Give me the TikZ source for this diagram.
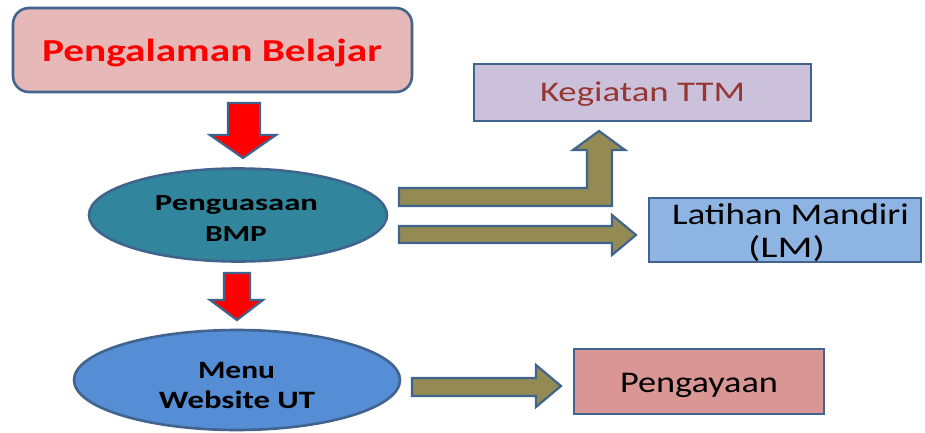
\documentclass[tikz,border=0pt]{standalone}
\usepackage{fontspec}
\setmainfont{Carlito}
\usetikzlibrary{shapes.geometric}
\definecolor{bord}{HTML}{41648F}
\definecolor{pinkbox}{HTML}{E6B9B8}
\definecolor{tealell}{HTML}{31859C}
\definecolor{blueell}{HTML}{558ED5}
\definecolor{lilac}{HTML}{CCC1DA}
\definecolor{darkred}{HTML}{953735}
\definecolor{lmblue}{HTML}{8EB4E3}
\definecolor{rose}{HTML}{D99694}
\definecolor{olive}{HTML}{948A54}
\newcommand{\fitw}[2]{\resizebox{#1}{\height}{#2}}
\tikzset{
  boxshape/.style={draw=bord, line width=2.6pt, inner sep=0pt},
  blockarrow/.style={draw=bord, line width=2.2pt, line join=miter},
  lbl/.style={anchor=base, inner sep=0pt},
}
\begin{document}
\begin{tikzpicture}[x=1pt,y=-1pt]
\useasboundingbox (0,0) rectangle (925,433);
% boxes and ellipses
\node[boxshape, fill=pinkbox, rounded corners=16pt, minimum width=399pt, minimum height=84pt] (pb) at (212.5,50) {};
\node[boxshape, ellipse, fill=tealell, minimum width=298pt, minimum height=93pt] (bmp) at (238,215) {};
\node[boxshape, ellipse, fill=blueell, minimum width=326pt, minimum height=100pt] (web) at (237,380) {};
\node[boxshape, fill=lilac, minimum width=337pt, minimum height=57pt] (ttm) at (642.5,92.5) {};
\node[boxshape, fill=lmblue, minimum width=272pt, minimum height=64pt] (lm) at (785,230) {};
\node[boxshape, fill=rose, minimum width=250pt, minimum height=65pt] (pg) at (699,381.5) {};
% texts
\node[lbl, text=red, font=\fontsize{32}{36}\selectfont\bfseries] (pbt) at (212,62) {\fitw{340pt}{Pengalaman Belajar}};
\node[lbl, font=\fontsize{23}{27}\selectfont\bfseries] (bmpt1) at (236.5,210) {\fitw{163pt}{Penguasaan}};
\node[lbl, font=\fontsize{23}{27}\selectfont\bfseries] (bmpt2) at (236,241) {\fitw{62pt}{BMP}};
\node[lbl, font=\fontsize{25}{29}\selectfont\bfseries] (webt1) at (236.5,378) {\fitw{77pt}{Menu}};
\node[lbl, font=\fontsize{25}{29}\selectfont\bfseries] (webt2) at (237,408) {\fitw{156pt}{Website UT}};
\node[lbl, text=darkred, font=\fontsize{28.5}{33}\selectfont] (ttmt) at (642.5,102) {\fitw{205pt}{Kegiatan TTM}};
\node[lbl, font=\fontsize{30}{34}\selectfont] (lmt1) at (790.5,224) {\fitw{237pt}{Latihan Mandiri}};
\node[lbl, font=\fontsize{30}{34}\selectfont] (lmt2) at (786.5,257) {\fitw{77pt}{(LM)}};
\node[lbl, font=\fontsize{30}{34}\selectfont] (pgt) at (699,392) {\fitw{158pt}{Pengayaan}};
% red arrows
\draw[blockarrow, fill=red] (228,103) -- (260,103) -- (260,135) -- (276,135) -- (243,158) -- (210,135) -- (228,135) -- cycle;
\draw[blockarrow, fill=red] (224,273) -- (250,273) -- (250,300) -- (263,300) -- (237,320) -- (210,300) -- (224,300) -- cycle;
% olive arrows
\draw[blockarrow, fill=olive] (399,206) -- (612,206) -- (612,150) -- (625,150) -- (599,131) -- (573,150) -- (587,150) -- (587,188) -- (399,188) -- cycle;
\draw[blockarrow, fill=olive] (399,226) -- (612,226) -- (612,215) -- (636,235) -- (612,255) -- (612,243) -- (399,243) -- cycle;
\draw[blockarrow, fill=olive] (412,378) -- (536,378) -- (536,365) -- (561,386) -- (536,407) -- (536,396) -- (412,396) -- cycle;
\end{tikzpicture}
\end{document}
